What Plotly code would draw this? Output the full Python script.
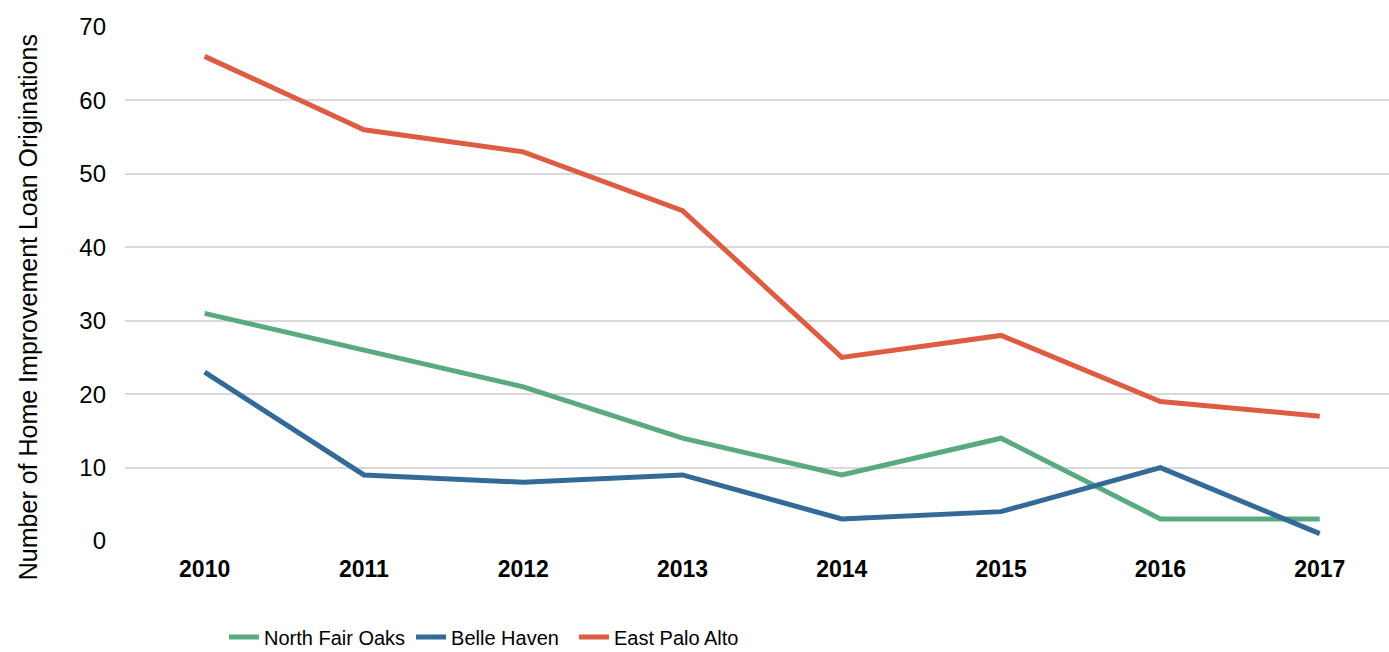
import plotly.graph_objects as go

years = ["2010", "2011", "2012", "2013", "2014", "2015", "2016", "2017"]
north_fair_oaks = [31, 26, 21, 14, 9, 14, 3, 3]
belle_haven = [23, 9, 8, 9, 3, 4, 10, 1]
east_palo_alto = [66, 56, 53, 45, 25, 28, 19, 17]

series = [
    ("North Fair Oaks", north_fair_oaks, "#5aaa80", "legend"),
    ("Belle Haven", belle_haven, "#336a97", "legend2"),
    ("East Palo Alto", east_palo_alto, "#de5c43", "legend3"),
]

fig = go.Figure()
for nombre, valores, color, leyenda in series:
    fig.add_trace(go.Scatter(
        x=years, y=valores, name=nombre, mode="lines",
        line=dict(color=color, width=5), legend=leyenda,
    ))

# una leyenda por serie para poder separarlas como en el original
# (referidas al contenedor para que no empujen el margen inferior)
fuente_leyenda = dict(size=20, family="Liberation Sans, Arial")
leyendas = {}
for nombre_ley, xpos in [("legend", 0.0783), ("legend2", 0.2263), ("legend3", 0.3552)]:
    leyendas[nombre_ley] = dict(
        orientation="h", x=xpos, xanchor="left",
        yref="container", y=0.023, yanchor="middle",
        font=fuente_leyenda, itemwidth=30, bgcolor="rgba(0,0,0,0)",
    )

fig.update_layout(
    width=1389, height=652,
    plot_bgcolor="white", paper_bgcolor="white",
    margin=dict(l=125, r=0, t=27, b=111),
    font=dict(family="Liberation Sans, Arial", size=19, color="#000000"),
    showlegend=True,
    **leyendas,
    xaxis=dict(
        type="category", range=[-0.5, 7.435],
        showgrid=False, zeroline=False, showline=False, ticks="",
        tickfont=dict(size=23, family="Liberation Sans, Arial", weight="bold"),
        ticklabelstandoff=12,
    ),
    yaxis=dict(
        range=[0, 70], dtick=10, tick0=0,
        showgrid=True, gridcolor="#d9d9d9", gridwidth=2,
        zeroline=False, showline=False, ticks="",
        tickfont=dict(size=24), ticklabelstandoff=18,
    ),
    annotations=[dict(
        text="Number of Home Improvement Loan Originations",
        xref="paper", yref="paper", x=-0.0767, y=0.455,
        xanchor="center", yanchor="middle", textangle=-90,
        showarrow=False, font=dict(size=25),
    )],
)

# quitar el margen del body para que la figura quede en (0, 0)
fig.write_html("out.html", config={"displayModeBar": False},
               post_script="document.body.style.margin='0';")
